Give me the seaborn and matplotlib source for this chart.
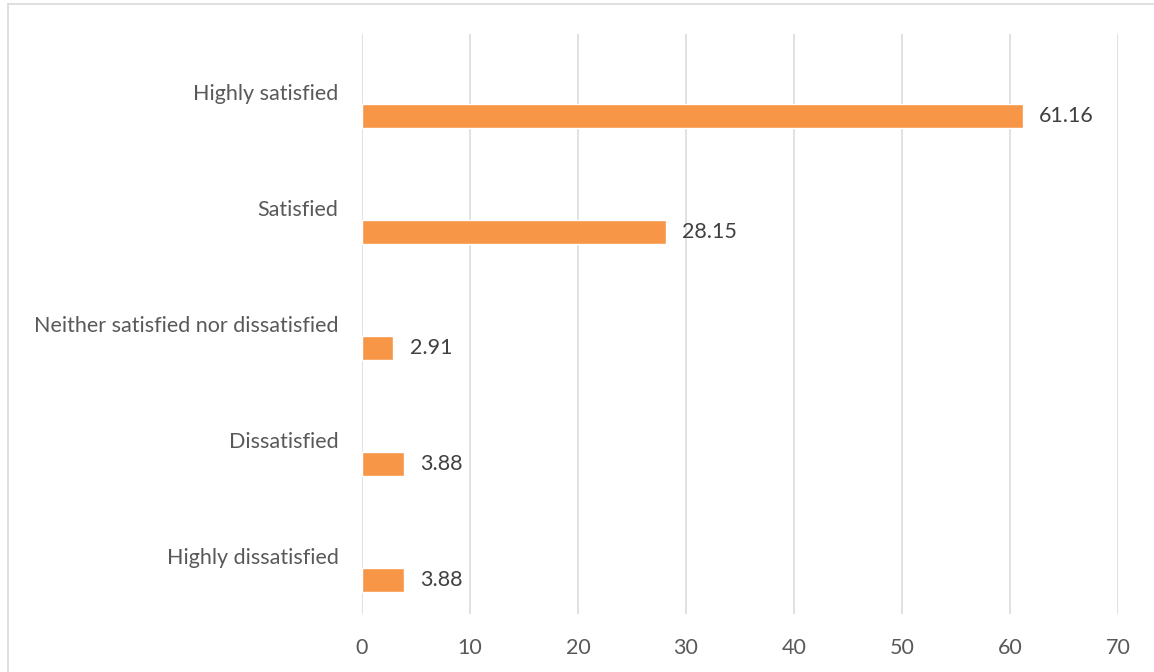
import numpy as np
import pandas as pd
import matplotlib
matplotlib.use("Agg")
import matplotlib.pyplot as plt
import seaborn as sns
from matplotlib.lines import Line2D

# data
categories = ["Highly satisfied", "Satisfied", "Neither satisfied nor dissatisfied",
              "Dissatisfied", "Highly dissatisfied"]
values = [61.16, 28.15, 2.91, 3.88, 3.88]
x_ticks = [0, 10, 20, 30, 40, 50, 60, 70]

sns.set_style("white")
plt.rcParams["font.family"] = ["Lato", "DejaVu Sans"]

# bars sit just below their category label (excel style offset)
bar_h = 0.207
df = pd.DataFrame({"value": values, "pos": np.arange(len(categories)) + bar_h})

fig = plt.figure(figsize=(11.54, 6.72), dpi=100)
ax = fig.add_axes([0.3137, 0.0863, 0.6551, 0.8631])

sns.barplot(data=df, x="value", y="pos", orient="h", native_scale=True,
            width=bar_h, color="#F79646", saturation=1, ax=ax, zorder=3)

ax.set_xlim(0, 70)
ax.set_ylim(len(categories) - 0.5, -0.5)
ax.set_xticks(x_ticks)
ax.set_xticklabels([str(t) for t in x_ticks])
ax.set_yticks(np.arange(len(categories)))
ax.set_yticklabels(categories)
ax.set_xlabel("")
ax.set_ylabel("")

fs = 15.5
ax.tick_params(axis="x", length=0, pad=17, labelsize=fs, labelcolor="#595959")
ax.tick_params(axis="y", length=0, pad=17, labelsize=fs, labelcolor="#595959")

ax.xaxis.grid(True, color="#D9D9D9", linewidth=1.1, zorder=0)
ax.yaxis.grid(False)
for s in ax.spines.values():
    s.set_visible(False)

for v, p in zip(df["value"], df["pos"]):
    ax.text(v + 1.5, p, f"{v:.2f}", va="center", ha="left",
            fontsize=fs, color="#404040")

# chart frame (cut at right and bottom like the screenshot)
fig.add_artist(Line2D([8 / 1154, 1.0], [1 - 4 / 672] * 2, color="#D9D9D9", lw=1.2,
                      transform=fig.transFigure))
fig.add_artist(Line2D([8 / 1154] * 2, [0.0, 1 - 4 / 672], color="#D9D9D9", lw=1.2,
                      transform=fig.transFigure))

fig.savefig("out.png", dpi=100)
